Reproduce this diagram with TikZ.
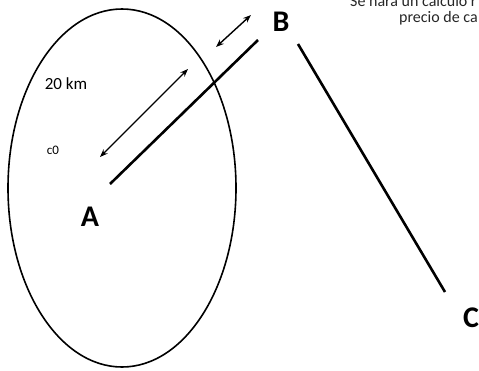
\documentclass[tikz,border=0pt]{standalone}
\usepackage{fontspec}
\setmainfont{Carlito}
\usetikzlibrary{arrows.meta}
\begin{document}
\begin{tikzpicture}[x=1pt,y=-1pt,
  letter/.style={font=\fontsize{30}{30}\selectfont\bfseries, inner sep=0pt},
  thickline/.style={line width=2.6pt},
  dimarrow/.style={line width=1.4pt, {Stealth[length=8pt,width=6pt]}-{Stealth[length=8pt,width=6pt]}},
  note/.style={font=\fontsize{16}{16}\selectfont, text=black!85, inner sep=0pt, anchor=base west}]
\useasboundingbox (0,0) rectangle (479,370);
\clip (0,0) rectangle (479,370);
% circle around A
\draw[line width=1.6pt] (122,188) ellipse [x radius=114, y radius=179];
% labels
\node[letter] (A) at (90,217) {A};
\node[letter] (B) at (281,22) {B};
\node[letter] (C) at (471,318) {C};
\node[font=\fontsize{17}{17}\selectfont, inner sep=0pt] (km) at (66,84) {20 km};
\node[font=\fontsize{13}{13}\selectfont, inner sep=0pt] (c0) at (53,150) {c0};
% coordinates
\coordinate (a1) at (110,184);
\coordinate (b1) at (258,40);
\coordinate (b2) at (298,44);
\coordinate (c1) at (445,292);
\coordinate (d1) at (100,157);
\coordinate (d2) at (188,69);
\coordinate (e1) at (216,47);
\coordinate (e2) at (251,15);
% connectors
\draw[thickline] (a1) -- (b1);
\draw[thickline] (b2) -- (c1);
\draw[dimarrow] (d1) -- (d2);
\draw[dimarrow] (e1) -- (e2);
% top text (cut off)
\node[note] (t1) at (350,6) {Se hará un cálculo r};
\node[note] (t2) at (399,22) {precio de ca};
\end{tikzpicture}
\end{document}
